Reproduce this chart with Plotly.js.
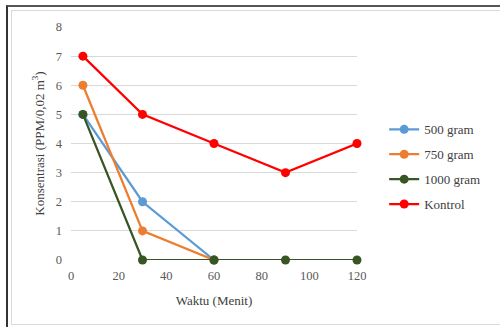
<!DOCTYPE html>
<html>
<head>
<meta charset="utf-8">
<script src="https://cdn.plot.ly/plotly-3.0.1.min.js"></script>
<style>
  html, body { margin: 0; padding: 0; background: #fff; }
  #wrap { position: relative; width: 500px; height: 327px; overflow: hidden; }
  #chart { position: absolute; left: 0; top: 0; width: 500px; height: 327px; }
  .frame-outer { position: absolute; left: 6px; top: 5px; width: 500px; height: 330px;
    border-top: 2px solid #555; border-left: 2px solid #333; pointer-events: none; }
  .frame-inner { position: absolute; left: 11px; top: 10px; width: 495px; height: 313px;
    border: 1px solid #d9d9d9; pointer-events: none; }
</style>
</head>
<body>
<div id="wrap">
  <div id="chart"></div>
  <div class="frame-outer"></div>
  <div class="frame-inner"></div>
</div>
<script>
const seriesNames = ["500 gram", "750 gram", "1000 gram", "Kontrol"];
const x500 = [5, 30, 60];
const y500 = [5, 2, 0];
const x750 = [5, 30, 60];
const y750 = [6, 1, 0];
const x1000 = [5, 30, 60, 90, 120];
const y1000 = [5, 0, 0, 0, 0];
const xKontrol = [5, 30, 60, 90, 120];
const yKontrol = [7, 5, 4, 3, 4];
const xTicks = [0, 20, 40, 60, 80, 100, 120];
const yTicks = [0, 1, 2, 3, 4, 5, 6, 7, 8];

const colors = ["#5B9BD5", "#ED7D31", "#375623", "#FF0000"];
const xs = [x500, x750, x1000, xKontrol];
const ys = [y500, y750, y1000, yKontrol];

const traces = seriesNames.map((n, i) => ({
  type: "scatter",
  mode: "lines+markers",
  name: n,
  x: xs[i],
  y: ys[i],
  legendgroup: "g" + i,
  cliponaxis: false,
  line: { color: colors[i], width: 2.25 },
  marker: { color: colors[i], size: 9 }
}));

const FAM = "Liberation Serif";

const layout = {
  width: 500, height: 327,
  margin: { l: 71, r: 143, t: 27, b: 67, pad: 0 },
  paper_bgcolor: "rgba(0,0,0,0)",
  plot_bgcolor: "#fff",
  font: { family: FAM, size: 12, color: "#595959" },
  showlegend: true,
  legend: {
    x: 1.095, y: 0.625, xanchor: "left", yanchor: "top",
    font: { family: FAM, size: 13, color: "#404040" },
    tracegroupgap: 5,
    bgcolor: "rgba(0,0,0,0)"
  },
  xaxis: {
    range: [0, 120],
    tickvals: xTicks,
    ticktext: xTicks.map(String),
    showgrid: false,
    zeroline: false,
    showline: false,
    ticks: "",
    ticklabelstandoff: 6,
    tickfont: { family: FAM, size: 12.5, color: "#595959" },
    title: { text: "Waktu (Menit)", font: { family: FAM, size: 13, color: "#404040" }, standoff: 14 }
  },
  yaxis: {
    range: [0, 8],
    tickvals: yTicks,
    ticktext: yTicks.map(String),
    showgrid: true,
    gridcolor: "#d9d9d9",
    gridwidth: 1,
    zeroline: false,
    showline: false,
    ticks: "",
    ticklabelstandoff: 8,
    tickfont: { family: FAM, size: 12.5, color: "#595959" },
    title: { text: "Konsentrasi (PPM/0,02 m<sup>3</sup>)", font: { family: FAM, size: 13, color: "#404040" }, standoff: 8 }
  }
};

Plotly.newPlot("chart", traces, layout, { displayModeBar: false, staticPlot: true });
</script>
</body>
</html>
